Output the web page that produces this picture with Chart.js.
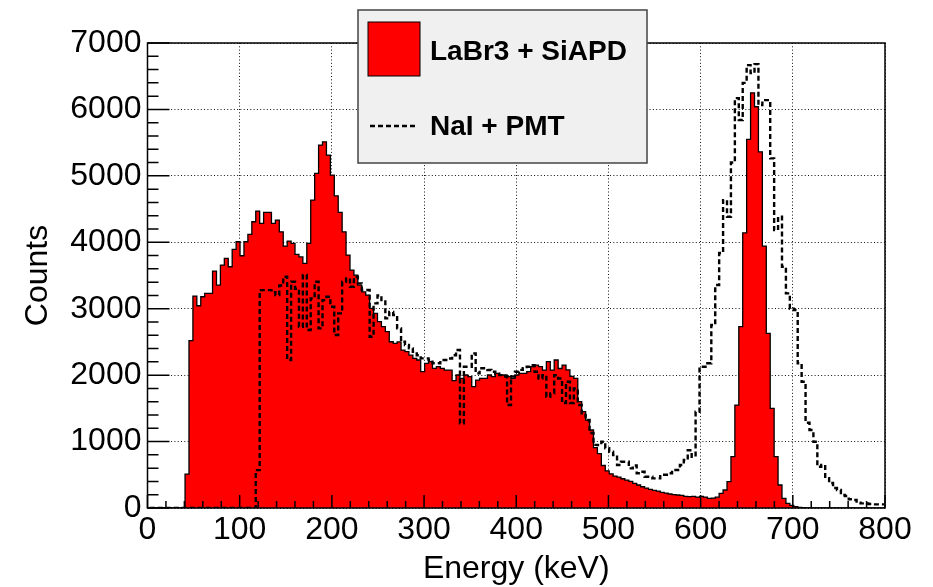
<!DOCTYPE html>
<html>
<head>
<meta charset="utf-8">
<title>LaBr3 vs NaI spectrum</title>
<script src="https://cdn.jsdelivr.net/npm/chart.js@4.4.1/dist/chart.umd.min.js"></script>
<style>
  html, body { margin: 0; padding: 0; background: #fff; }
  canvas { display: block; }
</style>
</head>
<body>
<canvas id="spectrum" width="933" height="587"></canvas>
<script>
// energy binning (keV): bin i covers [binStart + i*binWidth, binStart + (i+1)*binWidth)
const binStart = 2.4;
const binWidth = 4.26;

const seriesLabels = ['LaBr3 + SiAPD', 'NaI + PMT'];

// counts per bin
const labrCounts = [
  0, 0, 0, 0, 0, 0, 0, 0, 0, 510,
  2520, 3190, 3045, 3180, 3230, 3230, 3567, 3356, 3657, 3758,
  3632, 3893, 4008, 3797, 4008, 4119, 4309, 4470, 4285, 4450,
  4450, 4285, 4334, 4158, 3943, 4018, 3983, 3818, 3780, 3682,
  3983, 4635, 5037, 5463, 5513, 5313, 5012, 4700, 4450, 4158,
  3808, 3582, 3507, 3356, 3255, 3205, 3005, 2930, 2805, 2730,
  2654, 2503, 2478, 2500, 2378, 2353, 2300, 2253, 2228, 2052,
  2178, 2203, 2103, 2128, 2103, 2077, 2077, 1916, 2002, 1952,
  2002, 1977, 1826, 1926, 1952, 1952, 2002, 1977, 2027, 2002,
  2002, 1977, 1952, 2002, 2027, 2027, 2052, 2127, 2150, 2127,
  2077, 2202, 2077, 2228, 2100, 2152, 2080, 1980, 1950, 1600,
  1450, 1324, 1174, 910, 820, 640, 560, 515, 480, 465,
  440, 420, 400, 370, 346, 320, 300, 281, 265, 255,
  235, 225, 211, 200, 196, 190, 175, 170, 175, 165,
  175, 165, 146, 150, 163, 221, 271, 396, 772, 1550,
  2729, 4143, 5549, 6250, 6040, 5362, 3943, 2629, 1500, 772,
  346, 146, 70, 40, 20, 10, 5, 0, 0, 0,
  0, 0, 0, 0, 0, 0, 0, 0, 0, 0,
  0, 0, 0, 0, 0, 0, 0
];

const naiCounts = [
  0, 0, 0, 0, 0, 0, 0, 0, 0, 0,
  0, 0, 0, 0, 0, 0, 0, 0, 0, 0,
  0, 0, 0, 0, 0, 0, 0, 570, 3280, 3280,
  3280, 3250, 3205, 3350, 3481, 2228, 3406, 3300, 2729, 3507,
  2680, 3156, 3406, 2704, 3130, 3180, 3030, 2604, 2930, 3406,
  3457, 3330, 3481, 3381, 3281, 3281, 2578, 3080, 3200, 3130,
  2855, 2950, 2905, 2704, 2503, 2453, 2403, 2350, 2300, 2253,
  2253, 2228, 2178, 2178, 2228, 2228, 2250, 2300, 2378, 1275,
  2127, 2127, 2328, 2027, 2103, 2103, 2077, 2052, 2020, 2000,
  1980, 1550, 1980, 2052, 2080, 2103, 2127, 2150, 2050, 1950,
  2000, 1675, 1725, 2000, 1950, 1580, 1900, 1580, 1800, 1550,
  1400, 1324, 1130, 950, 948, 998, 900, 847, 797, 647,
  697, 697, 597, 640, 522, 546, 471, 471, 446, 446,
  480, 500, 522, 572, 572, 647, 722, 870, 770, 1450,
  2127, 2127, 2178, 2754, 3356, 3838, 4635, 4384, 5200, 6170,
  5840, 6400, 6667, 6547, 6682, 6065, 6140, 6140, 5263, 4184,
  4384, 3632, 3231, 3000, 2980, 2178, 1900, 1284, 1174, 998,
  622, 647, 450, 376, 300, 271, 196, 180, 131, 120,
  80, 70, 70, 60, 55, 55, 55
];

const xRange = [0, 800];
const yRange = [0, 7000];
const xMajor = 100, xMinor = 20;
const yMajor = 1000, yMinor = 200;

// histogram -> step points at the low edge of each bin, plus the closing edge
function toSteps(counts) {
  const pts = counts.map((c, i) => ({ x: binStart + i * binWidth, y: c }));
  pts.push({ x: binStart + counts.length * binWidth, y: counts[counts.length - 1] });
  return pts;
}

Chart.defaults.font.family = "'Liberation Sans', Arial, Helvetica, sans-serif";
Chart.defaults.color = '#000';

// ROOT style frame: box all around, ticks pointing inward on the bottom and left axes
const rootFrame = {
  id: 'rootFrame',
  afterDatasetsDraw(chart) {
    const { ctx, chartArea: a, scales: { x, y } } = chart;
    ctx.save();
    ctx.strokeStyle = '#000';
    ctx.lineWidth = 1.5;
    ctx.beginPath();
    for (let v = xRange[0]; v <= xRange[1]; v += xMinor) {
      const px = x.getPixelForValue(v);
      const len = v % xMajor === 0 ? 13 : 7;
      ctx.moveTo(px, a.bottom);
      ctx.lineTo(px, a.bottom - len);
    }
    for (let v = yRange[0]; v <= yRange[1]; v += yMinor) {
      const py = y.getPixelForValue(v);
      const len = v % yMajor === 0 ? 22 : 11;
      ctx.moveTo(a.left, py);
      ctx.lineTo(a.left + len, py);
    }
    ctx.stroke();
    ctx.strokeRect(a.left, a.top, a.right - a.left, a.bottom - a.top);
    ctx.restore();
  }
};

// TLegend-like box sitting over the top of the frame
const rootLegend = {
  id: 'rootLegend',
  afterDraw(chart) {
    const ctx = chart.ctx;
    const [labr, nai] = chart.data.datasets;
    const bx = 358, by = 10, bw = 289, bh = 153;
    ctx.save();
    ctx.fillStyle = '#f0f0f0';
    ctx.fillRect(bx, by, bw, bh);
    ctx.strokeStyle = '#444';
    ctx.lineWidth = 1.5;
    ctx.strokeRect(bx, by, bw, bh);

    // filled entry
    ctx.fillStyle = labr.backgroundColor;
    ctx.fillRect(368, 22, 52, 54);
    ctx.strokeStyle = '#000';
    ctx.lineWidth = 1;
    ctx.strokeRect(368, 22, 52, 54);

    // line entry
    ctx.setLineDash(nai.borderDash);
    ctx.lineWidth = nai.borderWidth;
    ctx.beginPath();
    ctx.moveTo(370, 126);
    ctx.lineTo(416, 126);
    ctx.stroke();
    ctx.setLineDash([]);

    ctx.fillStyle = '#000';
    ctx.font = "bold 28px 'Liberation Sans', Arial, sans-serif";
    ctx.textBaseline = 'alphabetic';
    ctx.fillText(labr.label, 430, 60);
    ctx.fillText(nai.label, 430, 135);
    ctx.restore();
  }
};

const tickFont = { size: 32 };
const titleFont = { size: 32, lineHeight: 1 };
const plainNumber = v => String(v);

new Chart(document.getElementById('spectrum'), {
  type: 'line',
  data: {
    datasets: [
      {
        label: seriesLabels[0],
        data: toSteps(labrCounts),
        stepped: 'before',
        fill: 'origin',
        backgroundColor: '#ff0000',
        borderColor: '#000',
        borderWidth: 1.3,
        pointRadius: 0,
        order: 2
      },
      {
        label: seriesLabels[1],
        data: toSteps(naiCounts),
        stepped: 'before',
        fill: false,
        borderColor: '#000',
        borderWidth: 2.4,
        borderDash: [5, 3],
        pointRadius: 0,
        order: 1
      }
    ]
  },
  options: {
    responsive: false,
    animation: false,
    parsing: false,
    layout: { padding: { top: 43, right: 48, left: 0, bottom: 0 } },
    plugins: {
      legend: { display: false },
      tooltip: { enabled: false }
    },
    scales: {
      x: {
        type: 'linear',
        min: xRange[0],
        max: xRange[1],
        ticks: { stepSize: xMajor, font: tickFont, padding: 3, maxRotation: 0, autoSkip: false, callback: plainNumber },
        grid: { color: '#111', lineWidth: 1, drawTicks: false },
        border: { display: false, dash: [1, 2.3] },
        title: { display: true, text: 'Energy (keV)', font: titleFont, padding: { bottom: 2 } },
        afterFit(scale) { scale.height = 79; }
      },
      y: {
        type: 'linear',
        min: yRange[0],
        max: yRange[1],
        ticks: { stepSize: yMajor, font: tickFont, padding: 6, callback: plainNumber },
        grid: { color: '#111', lineWidth: 1, drawTicks: false },
        border: { display: false, dash: [1, 2.3] },
        title: { display: true, text: 'Counts', font: titleFont, padding: { top: 22 } },
        afterFit(scale) { scale.width = 147.5; }
      }
    }
  },
  plugins: [rootFrame, rootLegend]
});
</script>
</body>
</html>
